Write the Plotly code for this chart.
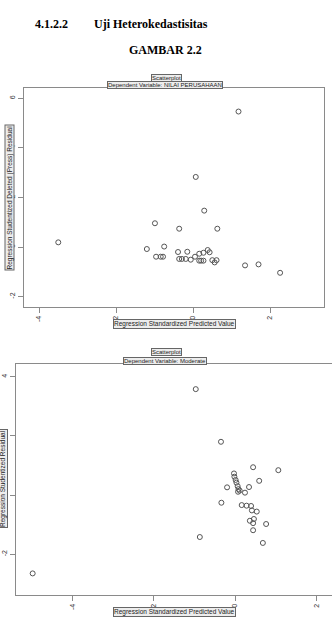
import plotly.graph_objects as go

W, H = 332, 629

# ---- data ----
top_x = [1.18, 0.07, 0.29, -0.99, -0.36, 0.63, -3.50, -1.20, -0.75, -0.96, -0.84, -0.78,
         -0.39, -0.15, -0.36, -0.29, -0.19, -0.06, 0.05, 0.16, 0.27, 0.38, 0.43, 0.16,
         0.21, 0.27, 0.50, 0.56, 0.61, 1.35, 1.70, 2.26]
top_y = [5.47, 2.83, 1.47, 0.96, 0.74, 0.74, 0.19, -0.08, 0.02, -0.39, -0.39, -0.39,
         -0.20, -0.19, -0.48, -0.48, -0.48, -0.51, -0.39, -0.27, -0.23, -0.12, -0.21, -0.55,
         -0.55, -0.55, -0.53, -0.62, -0.53, -0.74, -0.70, -1.04]

bot_x = [-0.97, -0.35, 0.44, 1.06, -0.03, -0.02, 0.59, 0.01, 0.03, -0.20, 0.34, 0.06,
         0.08, 0.11, 0.07, 0.24, -0.34, 0.16, 0.28, 0.39, 0.41, 0.53, 0.46, 0.36,
         0.44, 0.76, 0.44, 0.68, -0.87, -4.98]
bot_y = [3.58, 1.80, 0.94, 0.84, 0.73, 0.62, 0.48, 0.51, 0.42, 0.26, 0.27, 0.30,
         0.20, 0.15, 0.11, 0.08, -0.26, -0.34, -0.36, -0.37, -0.52, -0.56, -0.81, -0.87,
         -0.95, -0.98, -1.19, -1.62, -1.42, -2.65]

x_ticks = [-4, -2, 0, 2]
x_tick_labels = ["-4", "-2", "0", "2"]
top_y_ticks = [-2, 0, 2, 4, 6]
top_y_tick_labels = ["-2", "0", "2", "4", "6"]
bot_y_ticks = [-2, 0, 2, 4]
bot_y_tick_labels = ["-2", "0", "2", "4"]

heading_num = "4.1.2.2"
heading_txt = "Uji Heterokedastisitas"
figure_title = "GAMBAR 2.2"
top_sub = "Dependent Variable: NILAI PERUSAHAAN"
bot_sub = "Dependent Variable: Moderate"
x_title = "Regression Standardized Predicted Value"
top_y_title = "Regression Studentized Deleted (Press) Residual"
bot_y_title = "Regression Studentized Residual"

# ---- figure ----
def px_x(p):
    return p / W

def px_y(p):
    return 1 - p / H

marker = dict(symbol="circle-open", size=5, color="#555555", line=dict(width=1, color="#555555"))

fig = go.Figure()
fig.add_trace(go.Scatter(x=top_x, y=top_y, mode="markers", marker=marker,
                         xaxis="x", yaxis="y", showlegend=False, hoverinfo="skip"))
fig.add_trace(go.Scatter(x=bot_x, y=bot_y, mode="markers", marker=marker,
                         xaxis="x2", yaxis="y2", showlegend=False, hoverinfo="skip"))

LINE = "#8a8a8a"
TICKFONT = dict(family="Liberation Sans, Arial, sans-serif", size=7, color="#333333")
common = dict(showgrid=False, zeroline=False, showline=True, linecolor=LINE, linewidth=1,
              ticks="outside", ticklen=5, tickcolor=LINE, tickwidth=1, tickfont=TICKFONT,
              tickangle=-90, fixedrange=True)

fig.update_layout(
    width=W, height=H,
    margin=dict(l=0, r=0, t=0, b=0),
    paper_bgcolor="white", plot_bgcolor="white",
    xaxis=dict(domain=[px_x(24), px_x(324)], range=[-4.39, 3.40], anchor="y",
               tickvals=x_ticks, ticktext=x_tick_labels, mirror=True, **common),
    yaxis=dict(domain=[px_y(307), px_y(88)], range=[-2.42, 6.42], anchor="x",
               tickvals=top_y_ticks, ticktext=top_y_tick_labels, mirror=True, **common),
    xaxis2=dict(domain=[px_x(16), 1.0], range=[-5.39, 2.38], anchor="y2",
                tickvals=x_ticks, ticktext=x_tick_labels, mirror=True, **common),
    yaxis2=dict(domain=[px_y(595), px_y(364)], range=[-3.38, 4.43], anchor="x2",
                tickvals=bot_y_ticks, ticktext=bot_y_tick_labels, mirror=False, **common),
)

SERIF = "Liberation Serif, Times New Roman, serif"
SANS = "Liberation Sans, Arial, sans-serif"
box = dict(bordercolor="#666666", borderwidth=1, borderpad=0, bgcolor="#ededed")

ann = []
ann.append(dict(text="<b>%s</b>" % heading_num, x=px_x(33), y=px_y(24), xanchor="left", yanchor="middle",
                font=dict(family=SERIF, size=12, color="black")))
ann.append(dict(text="<b>%s</b>" % heading_txt, x=px_x(92), y=px_y(24), xanchor="left", yanchor="middle",
                font=dict(family=SERIF, size=12, color="black")))
ann.append(dict(text="<b>%s</b>" % figure_title, x=px_x(165), y=px_y(50), xanchor="center", yanchor="middle",
                font=dict(family=SERIF, size=12, color="black")))

small = dict(family=SANS, size=6, color="#222222")
for txt, cx, cy in [("Scatterplot", 166, 78.5), (top_sub, 165, 85.3),
                    ("Scatterplot", 166, 352.3), (bot_sub, 165, 361.3)]:
    ann.append(dict(text=txt, x=px_x(cx), y=px_y(cy), xanchor="center", yanchor="middle",
                    font=small, **box))

axt = dict(family=SANS, size=6.5, color="#222222")
ann.append(dict(text=x_title, x=px_x(174), y=px_y(324), xanchor="center", yanchor="middle", font=axt, **box))
ann.append(dict(text=x_title, x=px_x(174.5), y=px_y(612.3), xanchor="center", yanchor="middle", font=axt, **box))
ann.append(dict(text=top_y_title, x=px_x(9.5), y=px_y(198), xanchor="center", yanchor="middle",
                textangle=-90, font=axt, **box))
ann.append(dict(text=bot_y_title, x=px_x(3), y=px_y(479), xanchor="center", yanchor="middle",
                textangle=-90, font=axt, **box))

for a in ann:
    a.update(xref="paper", yref="paper", showarrow=False)
fig.update_layout(annotations=ann)

fig.write_html("out.html", config={"displayModeBar": False})
